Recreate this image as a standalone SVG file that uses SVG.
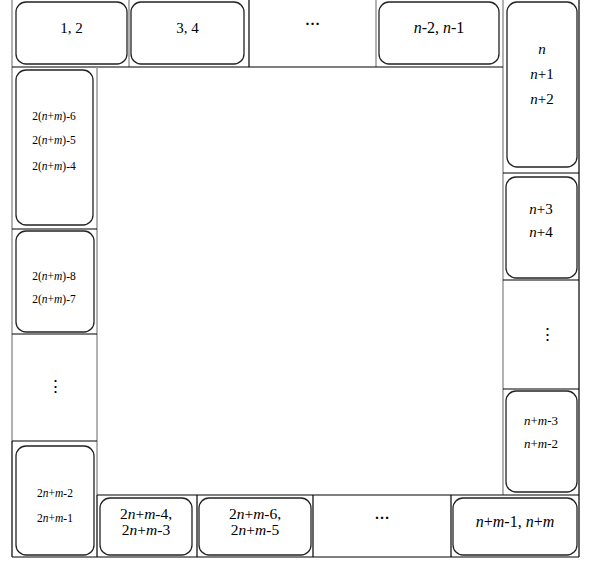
<svg xmlns="http://www.w3.org/2000/svg" width="593" height="563" viewBox="0 0 593 563" font-family="'Liberation Serif', 'Times New Roman', serif">
<style>
.bx{fill:#fff;stroke:#222;stroke-width:1.3}
.gk{stroke:#000;stroke-width:1.2;fill:none}
.gg{stroke:#999;stroke-width:1.5;fill:none}
text{font-family:"Liberation Serif","Times New Roman",serif;fill:#000;text-anchor:middle}
.i{font-style:italic}
.t15{font-size:15px}
.t16{font-size:16px}
.tb{font-size:15.5px}
.t13{font-size:13px}
.t11{font-size:11.5px}
.vd{font-family:"DejaVu Serif",serif;font-size:17px}
.hd{font-size:15px;font-weight:bold}
</style>
<rect width="593" height="563" fill="#fff"/>
<g id="grid">
<line class="gg" x1="12" y1="0" x2="12" y2="441"/>
<line class="gk" x1="12" y1="441" x2="12" y2="557"/>
<line class="gg" x1="129" y1="0" x2="129" y2="67"/>
<line class="gk" x1="249" y1="0" x2="249" y2="67"/>
<line class="gg" x1="376" y1="0" x2="376" y2="67"/>
<line class="gg" x1="503" y1="0" x2="503" y2="495"/>
<line class="gk" x1="579" y1="0" x2="579" y2="557"/>
<line class="gk" x1="12" y1="67" x2="503" y2="67"/>
<line class="gg" x1="97" y1="67" x2="97" y2="495"/>
<line class="gk" x1="97" y1="495" x2="97" y2="557"/>
<line class="gk" x1="12" y1="229" x2="97" y2="229"/>
<line class="gk" x1="12" y1="334" x2="97" y2="334"/>
<line class="gk" x1="12" y1="441" x2="97" y2="441"/>
<line class="gk" x1="503" y1="173" x2="579" y2="173"/>
<line class="gk" x1="503" y1="280" x2="579" y2="280"/>
<line class="gk" x1="503" y1="389" x2="579" y2="389"/>
<line class="gk" x1="97" y1="495" x2="579" y2="495"/>
<line class="gk" x1="197" y1="495" x2="197" y2="557"/>
<line class="gk" x1="313" y1="495" x2="313" y2="557"/>
<line class="gk" x1="451" y1="495" x2="451" y2="557"/>
<line class="gk" x1="12" y1="557" x2="579" y2="557"/>
</g>
<g id="n12"><rect class="bx" x="16" y="2" width="111" height="62" rx="10"/><text class="t15" x="71.5" y="33">1, 2</text></g>
<g id="n34"><rect class="bx" x="131" y="2" width="113" height="62" rx="10"/><text class="t15" x="187.5" y="33">3, 4</text></g>
<g id="ntopdots"><text class="hd" x="312.5" y="25">…</text></g>
<g id="nn2"><rect class="bx" x="379" y="2" width="120" height="62" rx="10"/><text class="t16" x="439" y="33"><tspan class="i">n</tspan>-2, <tspan class="i">n</tspan>-1</text></g>
<g id="nn"><rect class="bx" x="507" y="2" width="70" height="165" rx="10"/>
<text class="t15" x="542" y="54"><tspan class="i">n</tspan></text>
<text class="t15" x="542" y="79"><tspan class="i">n</tspan>+1</text>
<text class="t15" x="542" y="104"><tspan class="i">n</tspan>+2</text></g>
<g id="nn3"><rect class="bx" x="506" y="177" width="71" height="101" rx="10"/>
<text class="t15" x="541" y="214"><tspan class="i">n</tspan>+3</text>
<text class="t15" x="541" y="237"><tspan class="i">n</tspan>+4</text></g>
<g id="nrightdots"><text class="vd" x="547" y="340">⋮</text></g>
<g id="nnm3"><rect class="bx" x="506" y="391" width="71" height="101" rx="10"/>
<text class="t13" x="541" y="425"><tspan class="i">n</tspan>+<tspan class="i">m</tspan>-3</text>
<text class="t13" x="541" y="448"><tspan class="i">n</tspan>+<tspan class="i">m</tspan>-2</text></g>
<g id="nnm1"><rect class="bx" x="453" y="498" width="124" height="57" rx="10"/>
<text class="t16" x="515" y="527"><tspan class="i">n</tspan>+<tspan class="i">m</tspan>-1, <tspan class="i">n</tspan>+<tspan class="i">m</tspan></text></g>
<g id="nbotdots"><text class="hd" x="382" y="519">…</text></g>
<g id="n2nm6"><rect class="bx" x="199" y="498" width="112" height="57" rx="10"/>
<text class="tb" x="255" y="519">2<tspan class="i">n</tspan>+<tspan class="i">m</tspan>-6,</text>
<text class="tb" x="255" y="535">2<tspan class="i">n</tspan>+<tspan class="i">m</tspan>-5</text></g>
<g id="n2nm4"><rect class="bx" x="100" y="498" width="92" height="57" rx="10"/>
<text class="tb" x="146" y="519">2<tspan class="i">n</tspan>+<tspan class="i">m</tspan>-4,</text>
<text class="tb" x="146" y="535">2<tspan class="i">n</tspan>+<tspan class="i">m</tspan>-3</text></g>
<g id="n2nm2"><rect class="bx" x="16" y="446" width="78" height="109" rx="10"/>
<text class="t11" x="55" y="497">2<tspan class="i">n</tspan>+<tspan class="i">m</tspan>-2</text>
<text class="t11" x="55" y="522">2<tspan class="i">n</tspan>+<tspan class="i">m</tspan>-1</text></g>
<g id="nleftdots"><text class="vd" x="55" y="392">⋮</text></g>
<g id="n2nm8"><rect class="bx" x="16" y="231" width="78" height="101" rx="10"/>
<text class="t11" x="54" y="280">2(<tspan class="i">n</tspan>+<tspan class="i">m</tspan>)-8</text>
<text class="t11" x="54" y="303">2(<tspan class="i">n</tspan>+<tspan class="i">m</tspan>)-7</text></g>
<g id="n2nm6l"><rect class="bx" x="16" y="70" width="77" height="155" rx="10"/>
<text class="t11" x="54" y="120">2(<tspan class="i">n</tspan>+<tspan class="i">m</tspan>)-6</text>
<text class="t11" x="54" y="144">2(<tspan class="i">n</tspan>+<tspan class="i">m</tspan>)-5</text>
<text class="t11" x="54" y="170">2(<tspan class="i">n</tspan>+<tspan class="i">m</tspan>)-4</text></g>
</svg>
